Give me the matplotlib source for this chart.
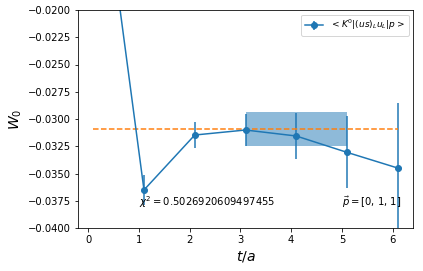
import numpy as np
import matplotlib
matplotlib.use('Agg')
import matplotlib.pyplot as plt

# data
t = [0.1, 1.1, 2.1, 3.1, 4.1, 5.1, 6.1]
w0 = [-0.0014, -0.03651, -0.03147, -0.03101, -0.03156, -0.03306, -0.0345]
w0_err = [0.0010, 0.00137, 0.00115, 0.0015, 0.0021, 0.0033, 0.0060]

fit_val = -0.03092
fit_err = 0.00159
fit_range = [3.1, 5.1]
full_range = [0.1, 6.1]

chi2 = 0.5026920609497455
mom = [0, 1, 1]

fig = plt.figure(figsize=(423 / 72., 271 / 72.), dpi=72)
ax = fig.add_axes([78 / 423., 43 / 271., 335 / 423., 218 / 271.])

ax.errorbar(t, w0, yerr=w0_err, marker='o', color='tab:blue',
            label=r'$<K^0|(us)_L u_L|p>$')
ax.fill_between(fit_range, fit_val - fit_err, fit_val + fit_err,
                color='tab:blue', alpha=0.5, linewidth=0)
ax.plot(full_range, [fit_val, fit_val], '--', color='tab:orange')

ax.text(1.0, -0.038, r'$\chi^2 = $' + str(chi2))
ax.text(5.0, -0.038, r'$\vec{p} = $' + str(mom))

ax.set_ylim(-0.04, -0.02)
ax.set_xlabel(r'$t/a$', fontsize=14)
ax.set_ylabel(r'$W_0$', fontsize=14)
ax.legend(loc='upper right', fontsize=9)

fig.savefig('out.png', dpi=72)
